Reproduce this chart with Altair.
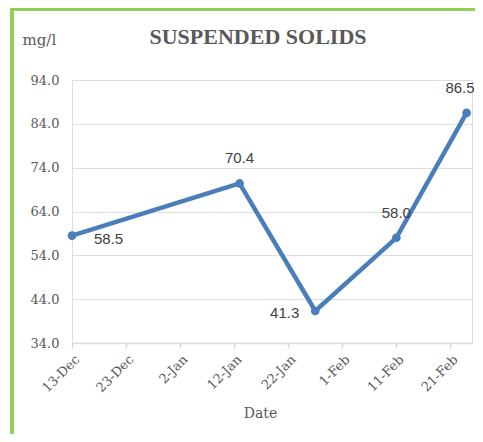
import altair as alt
import pandas as pd

# Data
dates = ["2017-12-13", "2018-01-13", "2018-01-27", "2018-02-11", "2018-02-24"]
values = [58.5, 70.4, 41.3, 58.0, 86.5]
label_side = ["right", "above", "left", "above", "above_end"]
tick_dates = ["2017-12-13", "2017-12-23", "2018-01-02", "2018-01-12",
              "2018-01-22", "2018-02-01", "2018-02-11", "2018-02-21"]
y_ticks = [34, 44, 54, 64, 74, 84, 94]

df = pd.DataFrame({"date": dates, "value": values, "side": label_side})

def dt(s):
    y, m, d = (int(p) for p in s.split("-"))
    return alt.DateTime(year=y, month=m, date=d, utc=True)

GREY = "#595959"
SERIF = "DejaVu Serif"
LINE = "#4a7ebb"
GREEN = "#92d050"

PAD_L, PAD_T, PAD_R, PAD_B = 64, 72, 3, 91
W, H = 400, 263

x_enc = alt.X(
    "date:T",
    scale=alt.Scale(type="utc", domain=[dt("2017-12-13"), dt("2018-02-25")]),
    axis=alt.Axis(
        values=[dt(s) for s in tick_dates],
        labelExpr="utcFormat(datum.value, '%-d-%b')",
        labelAngle=-45, labelAlign="right", labelBaseline="middle",
        labelFont=SERIF, labelFontSize=13, labelColor=GREY,
        labelPadding=9, labelOffset=5,
        domainColor="#d9d9d9", domainWidth=1.5,
        tickColor="#d9d9d9", tickSize=5, tickWidth=1.5,
        grid=False,
        title="Date", titleFont=SERIF, titleFontSize=14, titleFontWeight="normal",
        titleColor=GREY, titleX=188, titleY=63, titleAnchor="middle",
    ),
)
y_enc = alt.Y(
    "value:Q",
    scale=alt.Scale(domain=[34, 94], nice=False, zero=False),
    axis=alt.Axis(
        values=y_ticks, format=".1f",
        labelFont=SERIF, labelFontSize=13, labelColor=GREY, labelPadding=13,
        domain=False, ticks=False,
        gridColor="#dedede", gridWidth=1.2,
        title="mg/l", titleAngle=0, titleAlign="left", titleBaseline="middle",
        titleX=-50, titleY=-41, titleFont=SERIF, titleFontSize=15,
        titleFontWeight="normal", titleColor=GREY,
    ),
)

base = alt.Chart(df).encode(x=x_enc, y=y_enc)

# chart frame (left and top edges visible in the reference)
frame_left = alt.Chart(df).mark_rule(stroke=GREEN, strokeWidth=3).encode(
    x=alt.value(-60), y=alt.value(-72.5), y2=alt.value(H + PAD_B)
)
frame_top = alt.Chart(df).mark_rule(stroke=GREEN, strokeWidth=3).encode(
    x=alt.value(-61.5), x2=alt.value(W + PAD_R), y=alt.value(-71)
)

line = base.mark_line(color=LINE, strokeWidth=4.5)
points = base.mark_circle(color=LINE, size=75, opacity=1)

lab_font = "Liberation Sans"
lab_size = 15
lab_color = "#404040"
txt_right = base.transform_filter(alt.datum.side == "right").mark_text(
    align="left", baseline="middle", dx=22, dy=3, font=lab_font, fontSize=lab_size, color=lab_color
).encode(text=alt.Text("value:Q", format=".1f"))
txt_above = base.transform_filter(alt.datum.side == "above").mark_text(
    align="center", baseline="middle", dy=-25, font=lab_font, fontSize=lab_size, color=lab_color
).encode(text=alt.Text("value:Q", format=".1f"))
txt_above_end = base.transform_filter(alt.datum.side == "above_end").mark_text(
    align="right", baseline="middle", dx=8, dy=-25, font=lab_font, fontSize=lab_size, color=lab_color
).encode(text=alt.Text("value:Q", format=".1f"))
txt_left = base.transform_filter(alt.datum.side == "left").mark_text(
    align="right", baseline="middle", dx=-16, dy=2, font=lab_font, fontSize=lab_size, color=lab_color
).encode(text=alt.Text("value:Q", format=".1f"))

chart = alt.layer(
    frame_left, frame_top, line, points, txt_right, txt_above, txt_above_end, txt_left
).properties(
    width=W, height=H,
    title=alt.Title(
        "SUSPENDED SOLIDS", font="Liberation Serif", fontSize=22, fontWeight="bold",
        color=GREY, anchor="middle", dx=-14, offset=-43,
    ),
    autosize=alt.AutoSizeParams(type="none"),
    padding={"left": PAD_L, "top": PAD_T, "right": PAD_R, "bottom": PAD_B},
).configure_view(stroke=None).configure(background="white")

chart.save("out.html", embed_options={"renderer": "svg", "actions": False})
